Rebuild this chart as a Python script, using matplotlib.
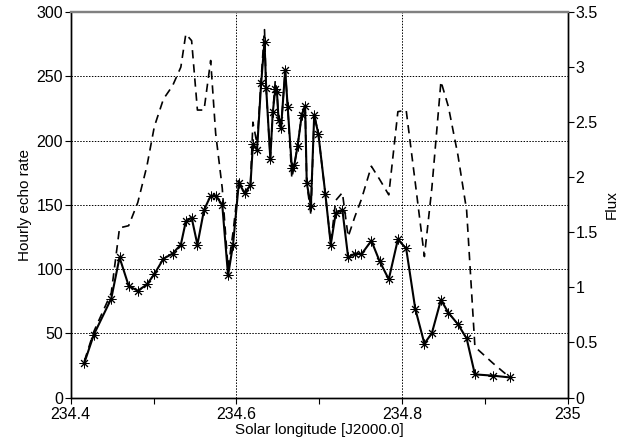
import numpy as np
import matplotlib
matplotlib.use("Agg")
from matplotlib import pyplot as plt
from matplotlib.ticker import MultipleLocator, FixedLocator, FuncFormatter

plt.rcParams['font.family'] = ['Liberation Sans', 'DejaVu Sans']
plt.rcParams['font.size'] = 11

# solar longitude of each hourly bin
sol_long = [234.4165, 234.428, 234.449, 234.459, 234.470, 234.481, 234.492, 234.501,
            234.512, 234.523, 234.533, 234.539, 234.546, 234.553, 234.561, 234.569,
            234.575, 234.583, 234.590, 234.596, 234.603, 234.610, 234.617, 234.620,
            234.625, 234.630, 234.634, 234.636, 234.641, 234.644, 234.647, 234.649,
            234.651, 234.654, 234.659, 234.662, 234.667, 234.670, 234.674, 234.679,
            234.683, 234.685, 234.690, 234.694, 234.699, 234.7075, 234.714, 234.720,
            234.728, 234.735, 234.743, 234.751, 234.763, 234.773, 234.784, 234.795,
            234.805, 234.816, 234.827, 234.836, 234.847, 234.856, 234.8675, 234.878,
            234.888, 234.910, 234.9305]

# hourly echo counts
echo_rate = [27, 49, 77, 109, 87, 83, 88, 96,
             108, 112, 119, 137, 140, 119, 146, 157,
             157, 150, 95, 119, 167, 159, 165, 197,
             193, 245, 277, 241, 186, 222, 240, 238,
             216, 210, 255, 226, 179, 181, 196, 220,
             227, 167, 149, 220, 205, 158, 119, 143.5,
             146, 109, 112, 111.5, 122, 106, 92, 123,
             116, 69, 42, 50, 76, 66, 57, 46,
             18, 17, 15.6]

# flux, corrected for collecting area
flux = [0.33, 0.60, 0.95, 1.54, 1.56, 1.77, 2.10, 2.46,
        2.71, 2.83, 3.00, 3.30, 3.24, 2.61, 2.61, 3.06,
        2.40, 1.90, 1.17, 1.50, 1.97, 1.86, 1.93, 2.50,
        2.30, 2.90, 3.34, 2.81, 2.17, 2.59, 2.88, 2.78,
        2.52, 2.45, 2.97, 2.64, 1.99, 2.11, 2.29, 2.57,
        2.65, 1.95, 1.66, 2.57, 2.39, 1.84, 1.40, 1.79,
        1.86, 1.46, 1.64, 1.80, 2.10, 1.98, 1.84, 2.595,
        2.61, 1.95, 1.28, 1.90, 2.87, 2.64, 2.20, 1.70,
        0.46, 0.31, 0.18]

fig = plt.figure(figsize=(6.39, 4.45), dpi=100)
ax = fig.add_axes([0.1106, 0.1067, 0.7778, 0.8663])
ax2 = ax.twinx()

ax2.plot(sol_long, flux, color='black', linestyle=(0, (5, 3.5)), linewidth=1.2)
ax.plot(sol_long, echo_rate, color='black', linestyle='-', linewidth=1.5,
        marker=(8, 2, 0), markersize=7, markeredgewidth=0.7)

# keep the rate curve in front of the flux curve
ax.set_zorder(ax2.get_zorder() + 1)
ax.patch.set_visible(False)

ax.set_xlim(234.4, 235)
ax.set_ylim(0, 300)
ax2.set_ylim(0, 3.5)

ax.xaxis.set_major_locator(FixedLocator([234.4, 234.6, 234.8, 235.0]))
ax.xaxis.set_minor_locator(FixedLocator([234.5, 234.7, 234.9]))
ax.xaxis.set_major_formatter(FuncFormatter(lambda v, p: f"{v:g}"))
ax.yaxis.set_major_locator(MultipleLocator(50))
ax2.yaxis.set_major_locator(MultipleLocator(0.5))
ax2.yaxis.set_major_formatter(FuncFormatter(lambda v, p: f"{v:g}"))

ax.tick_params(axis='both', which='both', direction='out', length=4, width=0.8,
               color='black', pad=1.5, labelsize=11.5)
ax.tick_params(axis='x', which='both', pad=2.5)
ax2.tick_params(axis='y', direction='out', length=4, width=0.8, pad=1.5, labelsize=11.5)

ax.grid(True, which='major', color='black', linestyle=(0, (1.5, 1.5)), linewidth=0.7)

for a in (ax, ax2):
    a.spines['top'].set_color('#808080')
    a.spines['top'].set_linewidth(1.6)
    for s in ('left', 'right', 'bottom'):
        a.spines[s].set_linewidth(1.0)

ax.set_xlabel("Solar longitude [J2000.0]", labelpad=1)
ax.set_ylabel("Hourly echo rate", labelpad=3)
ax2.set_ylabel("Flux", labelpad=5)

fig.savefig("out.png", dpi=100)
